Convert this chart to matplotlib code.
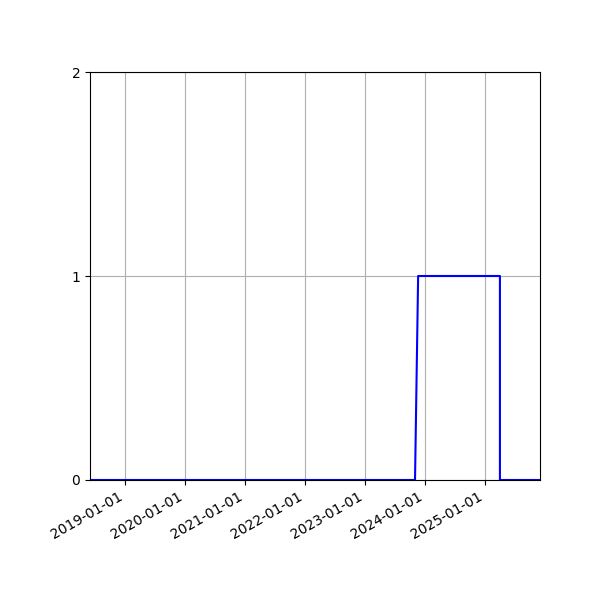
import numpy as np
import matplotlib
matplotlib.use("Agg")
import matplotlib.pyplot as plt
import matplotlib.dates as mdates

# step series
dates = np.array(["2018-06-01", "2023-11-01", "2023-11-20",
                  "2025-04-01", "2025-04-01", "2025-12-01"], dtype="datetime64[D]")
values = [0, 0, 1, 1, 0, 0]

fig, ax = plt.subplots(figsize=(6, 6), dpi=100)
ax.plot(dates, values, color="blue")
ax.set_xlim(np.datetime64("2018-06-01"), np.datetime64("2025-12-01"))
ax.set_ylim(0, 2)
ax.set_yticks([0, 1, 2])
ax.xaxis.set_major_locator(mdates.YearLocator())
ax.xaxis.set_major_formatter(mdates.DateFormatter("%Y-%m-%d"))
ax.grid(True)
fig.autofmt_xdate()
fig.subplots_adjust(left=0.15, right=0.9, top=0.88, bottom=0.2)
fig.savefig("out.png")
